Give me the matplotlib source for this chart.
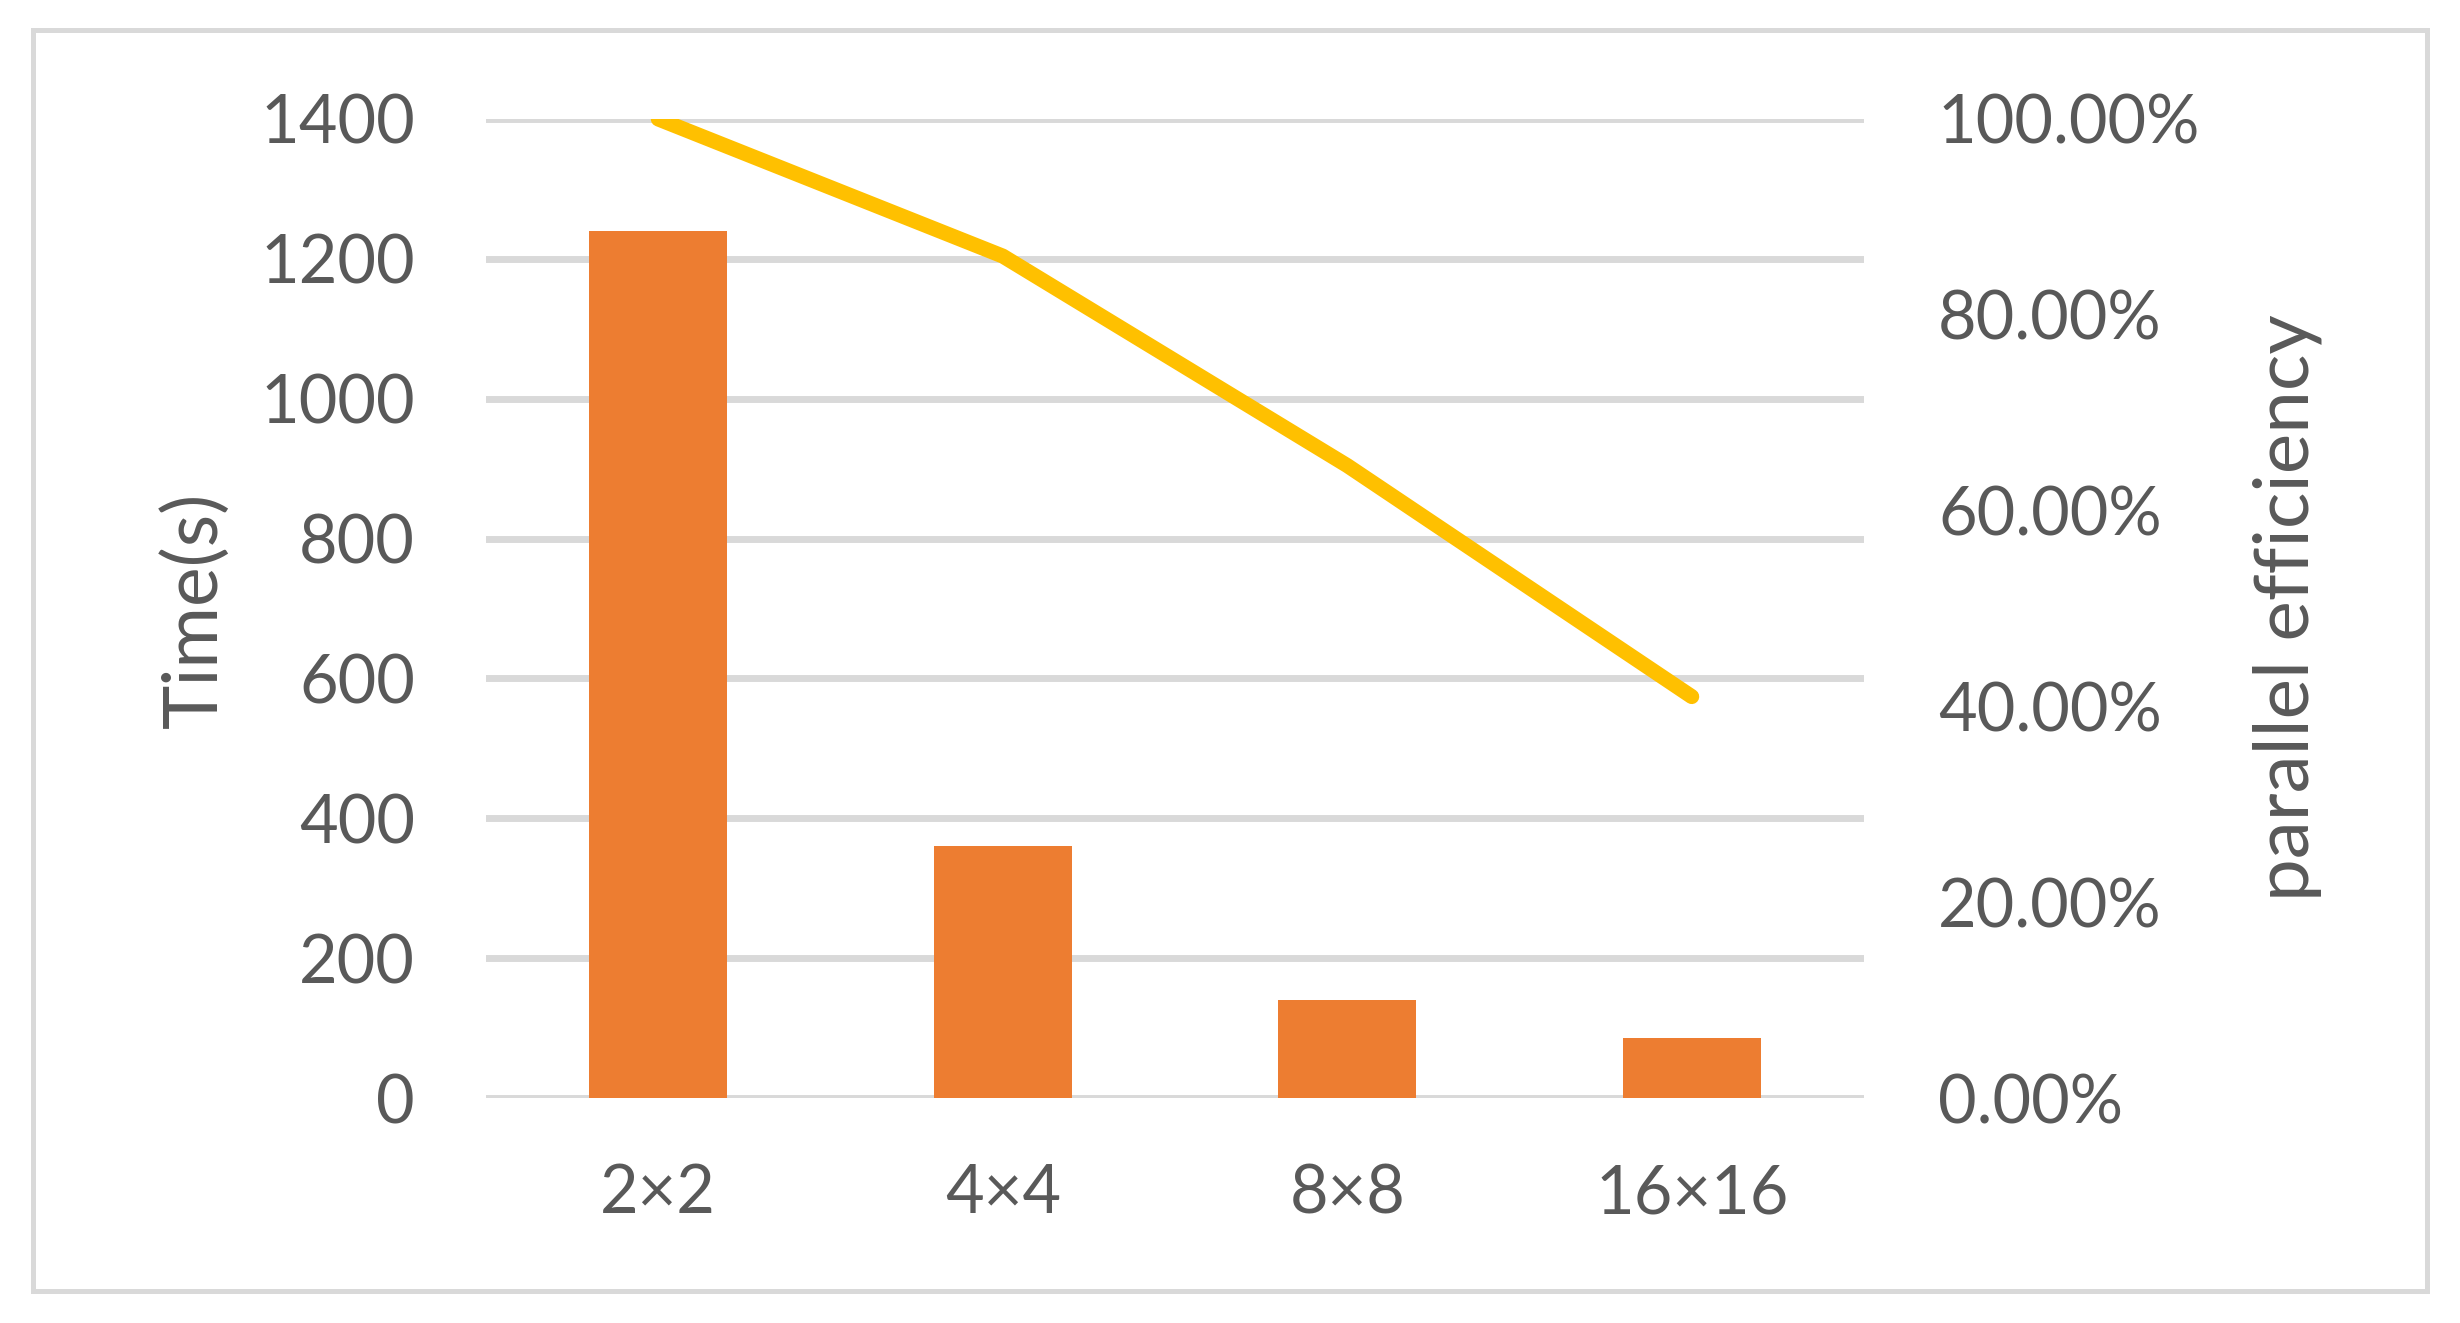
import matplotlib
matplotlib.use("Agg")
import matplotlib.pyplot as plt
from matplotlib.patches import Rectangle
from matplotlib.ticker import FuncFormatter, FixedLocator

plt.rcParams['font.family'] = ['Lato', 'DejaVu Sans']

categories = ["2×2", "4×4", "8×8", "16×16"]
time_s = [1240, 360, 140, 86]
efficiency = [1.00, 0.86, 0.646, 0.41]
time_ticks = [0, 200, 400, 600, 800, 1000, 1200, 1400]
eff_ticks = [0.0, 0.2, 0.4, 0.6, 0.8, 1.0]

TEXT = '#595959'
GRID = '#d9d9d9'
BAR = '#ED7D31'
LINE = '#FFC000'

fig = plt.figure(figsize=(12.3, 6.615), dpi=200)
ax = fig.add_axes([486/2460, 1-1098/1323, 1378/2460, 979/1323])
x = list(range(len(categories)))
ax.bar(x, time_s, width=0.4, color=BAR, zorder=3)
ax.set_xlim(-0.5, len(categories)-0.5)
ax.set_ylim(0, 1400)
ax.yaxis.set_major_locator(FixedLocator(time_ticks))
ax.set_xticks(x)
ax.set_xticklabels(categories)
ax.grid(axis='y', color=GRID, linewidth=2.5, zorder=0)
ax.set_axisbelow(True)
for s in ax.spines.values():
    s.set_visible(False)
ax.tick_params(axis='both', length=0, labelsize=24, labelcolor=TEXT)
ax.tick_params(axis='y', pad=25.6)
ax.tick_params(axis='x', pad=23.5)

ax2 = ax.twinx()
ax2.plot(x, efficiency, color=LINE, linewidth=5.4, solid_capstyle='round',
         solid_joinstyle='round', zorder=4)
ax2.set_ylim(0, 1.0)
ax2.yaxis.set_major_locator(FixedLocator(eff_ticks))
ax2.yaxis.set_major_formatter(FuncFormatter(lambda v, p: f"{v*100:.2f}%"))
for s in ax2.spines.values():
    s.set_visible(False)
ax2.tick_params(axis='y', length=0, labelsize=24, labelcolor=TEXT, pad=26.6)

fig.text(195/2460, 1-610/1323, "Time(s)", rotation=90, ha='center', va='center',
         fontsize=27, color=TEXT)
fig.text(2287/2460, 1-608/1323, "parallel efficiency", rotation=90, ha='center',
         va='center', fontsize=27.5, color=TEXT)

fig.patches.append(Rectangle((33/2460, 1-1291/1323), 2394/2460, 1261/1323,
                             transform=fig.transFigure, fill=False,
                             edgecolor=GRID, linewidth=1.8))

fig.savefig("out.png", dpi=200, facecolor='white')
